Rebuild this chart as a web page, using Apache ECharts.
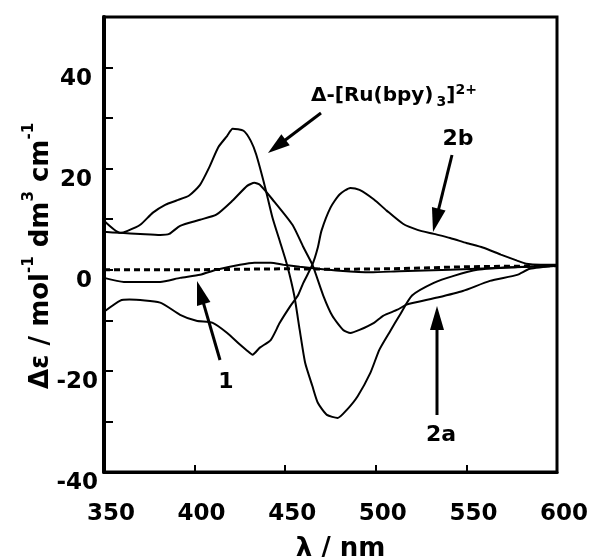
<!DOCTYPE html>
<html>
<head>
<meta charset="utf-8">
<script src="https://cdn.jsdelivr.net/npm/echarts/dist/echarts.min.js"></script>
<style>
  html, body { margin: 0; padding: 0; background: #fff; }
  #cdChart { width: 590px; height: 557px; }
</style>
</head>
<body>
<div id="cdChart"></div>
<script>
// wavelengths (nm) and Δε values
const lambdaRu = [350, 359, 363, 370, 377, 384, 390, 397, 403, 408, 413, 418, 421, 427, 431, 434, 439, 443, 447, 451, 455, 458, 461, 465, 468, 473, 479, 484, 490, 497, 502, 508, 513, 520, 532, 543, 556, 575, 600];
const valuesRu = [9.7, 7.3, 7.7, 8.9, 11.3, 12.9, 13.7, 14.7, 16.8, 20.2, 24.2, 26.5, 27.9, 27.5, 25.5, 22.8, 16.2, 10.3, 5.7, 1.0, -5.1, -11.9, -18.4, -23.0, -26.3, -28.7, -29.3, -27.7, -25.0, -20.4, -15.8, -12.1, -9.1, -5.1, -2.6, -1.2, 0.0, 0.5, 0.8];

const lambda2b = [350, 359, 364, 381, 392, 401, 410, 418, 425, 429, 432, 436, 442, 447, 453, 457, 460, 465, 468, 470, 475, 480, 486, 491, 499, 506, 515, 523, 532, 541, 550, 559, 569, 578, 583, 591, 600];
const values2b = [-8.3, -6.1, -5.9, -6.5, -8.9, -10.1, -10.5, -12.5, -14.8, -16.0, -16.8, -15.4, -13.9, -10.5, -7.1, -5.1, -2.6, 1.0, 4.4, 7.7, 12.3, 14.9, 16.2, 15.8, 13.9, 11.7, 9.1, 7.9, 7.1, 6.3, 5.3, 4.4, 3.0, 1.8, 1.2, 1.0, 1.0];

const lambda2a = [350, 359, 370, 381, 386, 392, 403, 412, 421, 429, 433, 436, 443, 454, 460, 465, 471, 476, 482, 486, 491, 499, 504, 512, 517, 534, 548, 563, 578, 585, 600];
const values2a = [7.5, 7.3, 7.1, 6.9, 7.1, 8.7, 9.9, 10.9, 13.7, 16.6, 17.2, 16.8, 13.9, 8.9, 4.5, 1.0, -5.1, -9.1, -11.9, -12.5, -11.9, -10.5, -9.1, -7.9, -6.9, -5.5, -4.2, -2.2, -1.0, 0.2, 0.8];

const lambda1 = [350, 361, 381, 392, 403, 412, 425, 433, 442, 449, 458, 468, 480, 497, 513, 541, 570, 600];
const values1 = [-1.6, -2.4, -2.4, -1.6, -1.0, 0.0, 1.0, 1.4, 1.4, 1.0, 0.6, 0.2, -0.2, -0.5, -0.3, 0.0, 0.4, 0.8];

const lambdaDash = [350, 400, 450, 480, 510, 550, 600];
const valuesDash = [0.0, 0.0, 0.2, 0.1, 0.2, 0.6, 0.8];

const yTickLabels = [-40, -20, 0, 20, 40];

const FONT = 'DejaVu Sans';

function pairs(xs, ys) {
  return xs.map((x, i) => [x, ys[i]]);
}

// arrow: straight shaft plus filled head, tail -> tip
function arrow(x1, y1, x2, y2, hl, hw) {
  const dx = x2 - x1, dy = y2 - y1;
  const len = Math.hypot(dx, dy);
  const ux = dx / len, uy = dy / len;
  const bx = x2 - ux * hl, by = y2 - uy * hl;
  return [
    {
      type: 'line',
      shape: { x1: x1, y1: y1, x2: bx + ux * 2, y2: by + uy * 2 },
      style: { stroke: '#000', lineWidth: 3 }
    },
    {
      type: 'polygon',
      shape: { points: [[x2, y2], [bx - uy * hw, by + ux * hw], [bx + uy * hw, by - ux * hw]] },
      style: { fill: '#000' }
    }
  ];
}

function label(text, x, y) {
  return {
    type: 'text',
    x: x, y: y,
    style: {
      text: text, fill: '#000',
      font: 'bold 22px "' + FONT + '"',
      align: 'center', verticalAlign: 'middle'
    }
  };
}

const chart = echarts.init(document.getElementById('cdChart'));

const lineStyle = { color: '#000', width: 2 };
const tickFont = { fontFamily: FONT, fontWeight: 'bold', fontSize: 23, color: '#000' };

const option = {
  animation: false,
  backgroundColor: '#fff',
  grid: {
    left: 104, top: 17, width: 453, height: 455,
    containLabel: false,
    outerBoundsMode: 'none',
    show: true, borderColor: '#000', borderWidth: 3
  },
  xAxis: {
    type: 'value',
    min: 350, max: 600, interval: 50,
    name: 'λ / nm',
    nameLocation: 'middle',
    nameGap: 64,
    nameTextStyle: {
      color: '#000', fontFamily: FONT, fontWeight: 'bold', fontSize: 26,
      padding: [0, 0, 0, 20]
    },
    axisLine: { onZero: false, lineStyle: { color: '#000', width: 3 } },
    axisTick: { inside: true, length: 7, lineStyle: { color: '#000', width: 2 } },
    axisLabel: Object.assign({ margin: 31, padding: [0, 0, 0, 14] }, tickFont),
    splitLine: { show: false }
  },
  yAxis: {
    type: 'value',
    min: -40, max: 50, interval: 10,
    axisLine: { onZero: false, lineStyle: { color: '#000', width: 4 } },
    axisTick: { inside: true, length: 9, lineStyle: { color: '#000', width: 2 } },
    axisLabel: Object.assign({
      margin: 6,
      verticalAlign: 'top',
      lineHeight: 22,
      formatter: function (v) {
        if (yTickLabels.indexOf(v) < 0) return '';
        return v < 0 ? '{n|' + v + '}' : '{p|' + v + '}';
      },
      rich: {
        n: Object.assign({ lineHeight: 22 }, tickFont),
        p: Object.assign({ lineHeight: 22, padding: [0, 6, 0, 0] }, tickFont)
      }
    }, tickFont),
    splitLine: { show: false }
  },
  series: [
    { name: 'Ru', type: 'line', data: pairs(lambdaRu, valuesRu), showSymbol: false, smooth: 0.2, lineStyle: lineStyle },
    { name: '2b', type: 'line', data: pairs(lambda2b, values2b), showSymbol: false, smooth: 0.2, lineStyle: lineStyle },
    { name: '2a', type: 'line', data: pairs(lambda2a, values2a), showSymbol: false, smooth: 0.2, lineStyle: lineStyle },
    { name: '1', type: 'line', data: pairs(lambda1, values1), showSymbol: false, smooth: 0.2, lineStyle: lineStyle },
    {
      name: 'baseline', type: 'line', data: pairs(lambdaDash, valuesDash), showSymbol: false,
      lineStyle: { color: '#000', width: 3, type: [6, 4] }
    }
  ],
  graphic: [
    {
      type: 'text',
      x: 38, y: 256,
      rotation: Math.PI / 2,
      style: {
        text: '{m|Δε / mol}{s|-1}{m| dm}{s|3}{m| cm}{s|-1}',
        align: 'center', verticalAlign: 'middle',
        rich: {
          m: { fontFamily: FONT, fontWeight: 'bold', fontSize: 26, lineHeight: 32, fill: '#000', verticalAlign: 'bottom' },
          s: { fontFamily: FONT, fontWeight: 'bold', fontSize: 15, lineHeight: 32, fill: '#000', verticalAlign: 'top' }
        }
      }
    },
    {
      type: 'text',
      x: 311, y: 96,
      style: {
        text: '{m|Δ-[Ru(bpy)}{b|3}{m|]}{p|2+}',
        align: 'left', verticalAlign: 'middle',
        rich: {
          m: { fontFamily: FONT, fontWeight: 'bold', fontSize: 20, lineHeight: 26, fill: '#000', verticalAlign: 'middle' },
          b: { fontFamily: FONT, fontWeight: 'bold', fontSize: 14, lineHeight: 26, fill: '#000', verticalAlign: 'bottom', padding: [0, 0, 0, 3] },
          p: { fontFamily: FONT, fontWeight: 'bold', fontSize: 14, lineHeight: 26, fill: '#000', verticalAlign: 'top' }
        }
      }
    },
    label('2b', 458, 139),
    label('1', 226, 382),
    label('2a', 441, 435)
  ]
    .concat(arrow(321, 113, 268, 153, 22, 7))
    .concat(arrow(452, 155, 433, 232, 24, 7))
    .concat(arrow(220, 360, 197, 281, 24, 7))
    .concat(arrow(437, 415, 437, 306, 24, 7))
};

chart.setOption(option);
</script>
</body>
</html>
